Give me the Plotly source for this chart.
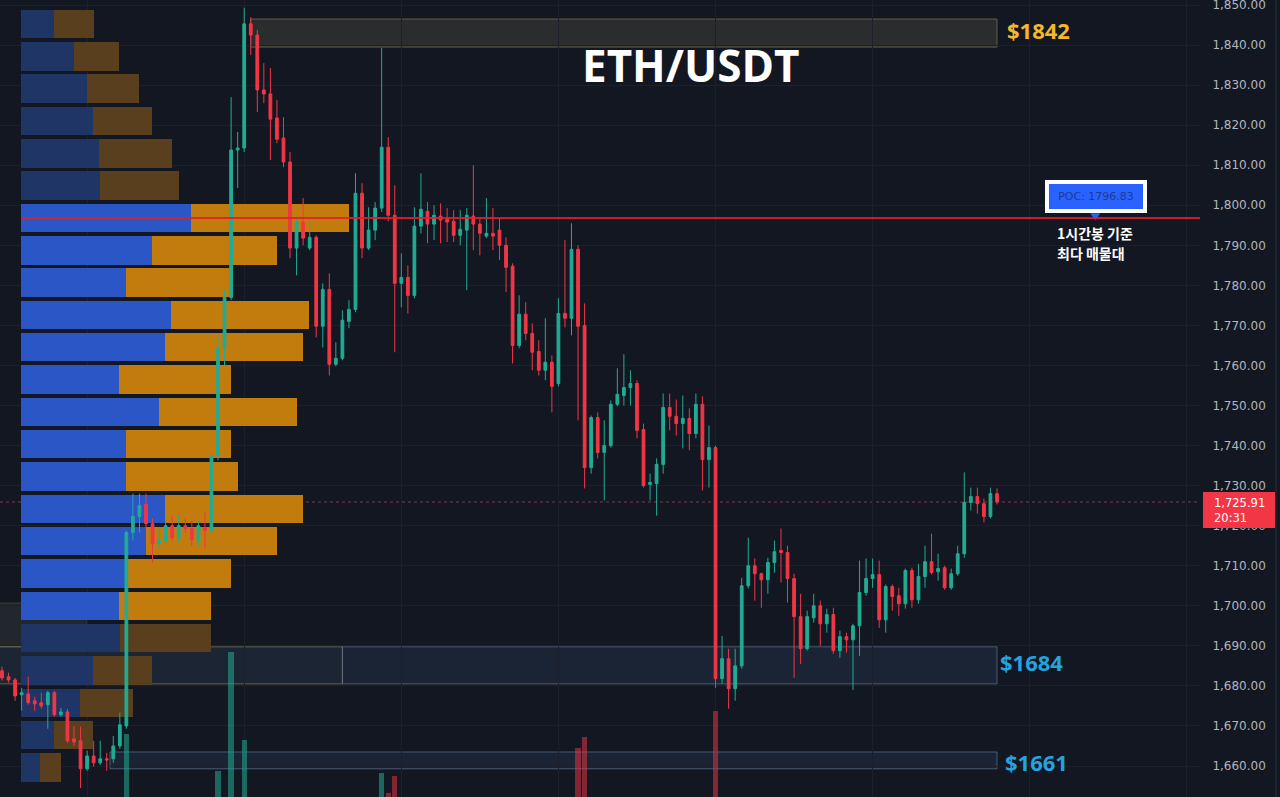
import plotly.graph_objects as go

# ---------------- data ----------------
opens = [
    1683.8, 1682.3, 1681.5, 1677.8, 1678.0, 1676.3, 1675.8, 1675.3, 1678.3, 1672.8,
    1673.5, 1666.8, 1666.3, 1659.3, 1662.5, 1660.8, 1661.8, 1661.8, 1665.0, 1670.0,
    1718.3, 1722.3, 1725.3, 1720.5, 1715.5, 1716.3, 1720.0, 1717.0, 1720.0, 1719.3,
    1716.3, 1719.5, 1718.8, 1737.5, 1764.3, 1777.0, 1813.8, 1814.3, 1845.3, 1842.5,
    1828.8, 1827.8, 1821.8, 1816.8, 1810.8, 1789.3, 1795.8, 1789.3, 1792.0, 1769.8,
    1779.0, 1760.3, 1761.8, 1771.0, 1774.0, 1803.0, 1789.3, 1793.8, 1799.3, 1814.5,
    1797.5, 1780.5, 1782.0, 1777.5, 1794.8, 1798.5, 1795.3, 1797.3, 1796.5, 1796.0,
    1792.5, 1793.8, 1797.3, 1795.3, 1792.3, 1793.0, 1793.8, 1790.0, 1784.8, 1765.0,
    1772.8, 1768.0, 1763.5, 1758.8, 1760.8, 1755.5, 1773.0, 1771.8, 1789.0, 1770.0,
    1734.5, 1747.0, 1738.3, 1740.0, 1750.3, 1752.5, 1754.5, 1755.5, 1744.0, 1730.3,
    1730.5, 1735.3, 1749.5, 1747.3, 1745.5, 1746.8, 1743.0, 1750.3, 1736.5, 1739.5,
    1681.8, 1686.8, 1679.3, 1685.0, 1705.0, 1710.0, 1708.0, 1706.5, 1710.8, 1713.8,
    1713.3, 1706.8, 1697.3, 1689.3, 1697.0, 1700.0, 1695.5, 1697.8, 1688.8, 1692.3,
    1691.5, 1695.0, 1703.3, 1706.8, 1707.8, 1696.5, 1704.8, 1702.5, 1700.5, 1708.8,
    1701.5, 1707.3, 1711.0, 1708.5, 1709.5, 1704.5, 1708.0, 1713.0, 1725.8, 1727.3,
    1725.5, 1722.3, 1728.0,
]
highs = [
    1684.8, 1683.3, 1682.0, 1679.5, 1682.3, 1677.3, 1678.3, 1678.8, 1678.8, 1674.5,
    1674.3, 1670.0, 1669.8, 1663.8, 1666.3, 1666.3, 1663.3, 1667.5, 1673.3, 1718.8,
    1728.0, 1728.0, 1728.0, 1721.8, 1719.3, 1721.3, 1722.5, 1722.5, 1721.8, 1721.3,
    1721.3, 1723.3, 1738.8, 1767.5, 1778.8, 1827.0, 1818.3, 1849.3, 1847.0, 1843.8,
    1835.5, 1834.3, 1826.3, 1822.0, 1813.3, 1797.0, 1801.8, 1797.0, 1792.5, 1780.5,
    1783.0, 1765.8, 1773.8, 1776.3, 1808.0, 1805.5, 1799.5, 1800.8, 1839.3, 1817.0,
    1805.0, 1788.0, 1785.0, 1799.5, 1808.0, 1800.8, 1800.0, 1800.5, 1799.3, 1798.8,
    1798.8, 1799.3, 1810.0, 1797.0, 1801.8, 1799.3, 1796.8, 1792.0, 1785.5, 1777.5,
    1775.8, 1770.5, 1766.3, 1771.8, 1762.5, 1776.8, 1791.3, 1795.5, 1790.0, 1775.5,
    1747.5, 1748.3, 1746.3, 1751.3, 1759.3, 1762.8, 1758.8, 1756.3, 1745.5, 1733.0,
    1736.8, 1753.0, 1753.0, 1751.5, 1752.5, 1749.3, 1753.0, 1752.3, 1745.0, 1740.0,
    1692.5, 1689.3, 1689.3, 1707.0, 1717.0, 1711.8, 1708.3, 1712.0, 1716.3, 1719.3,
    1715.0, 1708.0, 1703.0, 1698.8, 1703.0, 1701.3, 1699.3, 1699.5, 1693.8, 1693.3,
    1695.5, 1711.3, 1711.8, 1711.8, 1711.3, 1705.3, 1705.3, 1704.5, 1709.3, 1709.5,
    1710.5, 1715.0, 1718.0, 1713.0, 1710.0, 1709.3, 1715.0, 1733.3, 1729.5, 1729.5,
    1726.8, 1729.5, 1729.3,
]
lows = [
    1681.3, 1680.8, 1676.3, 1673.8, 1675.3, 1673.8, 1674.3, 1669.3, 1672.3, 1672.3,
    1665.8, 1665.0, 1654.5, 1658.8, 1659.8, 1660.3, 1658.8, 1660.8, 1664.3, 1669.3,
    1716.3, 1718.3, 1719.3, 1710.8, 1714.3, 1715.0, 1716.3, 1715.8, 1718.3, 1715.0,
    1715.0, 1714.3, 1718.0, 1736.3, 1760.0, 1776.3, 1804.3, 1813.3, 1837.5, 1823.3,
    1825.5, 1811.3, 1815.5, 1809.5, 1786.8, 1782.5, 1790.0, 1788.8, 1767.0, 1764.5,
    1757.5, 1759.8, 1761.3, 1769.3, 1773.3, 1786.8, 1788.8, 1791.3, 1798.3, 1796.0,
    1763.3, 1774.5, 1773.0, 1776.8, 1793.0, 1790.5, 1791.3, 1790.5, 1790.8, 1790.8,
    1790.0, 1778.8, 1788.8, 1787.5, 1791.8, 1788.8, 1786.3, 1778.3, 1760.5, 1764.3,
    1766.3, 1758.8, 1757.5, 1756.3, 1748.3, 1754.8, 1769.5, 1767.5, 1746.3, 1729.3,
    1733.0, 1736.8, 1726.3, 1739.5, 1749.8, 1750.0, 1750.0, 1741.8, 1729.5, 1726.3,
    1722.5, 1733.0, 1743.8, 1742.5, 1739.3, 1738.8, 1741.8, 1728.8, 1729.5, 1679.5,
    1680.5, 1674.3, 1676.3, 1684.3, 1704.3, 1701.3, 1699.5, 1703.0, 1708.3, 1705.8,
    1700.8, 1682.0, 1685.5, 1688.8, 1695.8, 1690.0, 1693.3, 1688.0, 1687.0, 1688.3,
    1679.0, 1687.5, 1702.5, 1704.5, 1694.5, 1693.3, 1698.8, 1697.5, 1699.3, 1699.5,
    1700.5, 1704.5, 1707.8, 1706.3, 1704.0, 1704.0, 1707.5, 1712.0, 1723.8, 1723.0,
    1720.8, 1721.8, 1725.3,
]
closes = [
    1682.0, 1681.5, 1677.5, 1678.3, 1675.8, 1675.5, 1675.0, 1678.3, 1672.8, 1673.5,
    1666.3, 1666.0, 1659.3, 1662.5, 1660.8, 1661.8, 1661.5, 1665.0, 1670.3, 1718.3,
    1722.3, 1725.0, 1720.5, 1715.5, 1716.3, 1720.0, 1717.0, 1720.0, 1719.3, 1716.5,
    1720.0, 1718.8, 1737.5, 1764.3, 1777.0, 1813.8, 1814.3, 1845.3, 1842.5, 1828.8,
    1827.8, 1821.5, 1816.5, 1810.8, 1789.3, 1795.8, 1791.8, 1792.0, 1769.8, 1779.0,
    1760.3, 1761.8, 1771.3, 1774.0, 1803.0, 1789.3, 1793.8, 1799.3, 1814.5, 1797.5,
    1780.5, 1782.0, 1777.5, 1794.8, 1799.0, 1795.3, 1797.5, 1796.3, 1795.8, 1792.5,
    1794.0, 1797.5, 1795.3, 1793.0, 1793.0, 1792.3, 1790.0, 1784.5, 1765.0, 1772.8,
    1768.0, 1763.3, 1758.8, 1760.8, 1754.8, 1773.0, 1771.8, 1789.0, 1769.8, 1734.5,
    1747.0, 1738.3, 1740.0, 1750.3, 1752.8, 1754.5, 1755.5, 1743.8, 1730.0, 1730.8,
    1735.3, 1749.5, 1747.3, 1745.5, 1746.8, 1743.0, 1750.3, 1736.5, 1739.5, 1681.8,
    1686.8, 1679.3, 1685.0, 1705.0, 1710.0, 1708.0, 1706.5, 1710.8, 1713.5, 1713.3,
    1706.8, 1697.3, 1689.3, 1697.3, 1700.0, 1695.5, 1697.8, 1688.8, 1692.3, 1691.5,
    1695.0, 1703.3, 1706.8, 1707.8, 1696.5, 1704.8, 1702.3, 1700.5, 1708.8, 1701.5,
    1707.3, 1711.0, 1708.3, 1709.3, 1704.5, 1708.0, 1713.0, 1725.8, 1727.3, 1725.5,
    1722.3, 1728.0, 1725.91,
]
volumes = [
    20, 15, 28, 18, 22, 12, 14, 24, 30, 12,
    32, 14, 45, 25, 18, 14, 12, 22, 35, 116,
    40, 30, 32, 35, 15, 20, 18, 16, 12, 18,
    16, 14, 50, 79, 46, 198, 40, 110, 35, 48,
    25, 35, 28, 30, 48, 30, 25, 18, 45, 32,
    40, 18, 28, 20, 50, 36, 20, 22, 77, 57,
    74, 22, 25, 40, 28, 20, 16, 14, 14, 18,
    15, 22, 30, 16, 18, 15, 20, 25, 48, 30,
    22, 24, 22, 25, 30, 42, 30, 45, 102, 113,
    40, 30, 35, 30, 20, 22, 16, 35, 42, 18,
    25, 40, 15, 14, 16, 18, 28, 38, 22, 139,
    40, 45, 35, 48, 30, 18, 15, 20, 18, 22,
    28, 45, 38, 30, 18, 22, 14, 30, 18, 12,
    30, 35, 18, 12, 32, 25, 12, 12, 28, 22,
    20, 18, 16, 10, 20, 15, 22, 45, 16, 14,
    18, 22, 10,
]
last_price = 1725.91
last_time = "20:31"

# volume profile (1h), rows from top to bottom
profile_prices = [1845.25, 1837.18, 1829.11, 1821.04, 1812.97, 1804.90, 1796.83, 1788.76,
                  1780.69, 1772.62, 1764.55, 1756.48, 1748.41, 1740.34, 1732.27, 1724.20,
                  1716.13, 1708.06, 1699.99, 1691.92, 1683.85, 1675.78, 1667.71, 1659.64]
profile_up = [33, 53, 66, 72, 78, 79, 170, 131, 105, 150, 144, 98,
              138, 105, 105, 144, 125, 107, 98, 99, 72, 59, 33, 19]
profile_down = [40, 45, 52, 59, 73, 79, 158, 125, 105, 138, 138, 112,
                138, 105, 112, 138, 131, 103, 92, 91, 59, 53, 39, 21]
poc_price = 1796.83
value_area_low, value_area_high = 1696.0, 1801.0

# support / resistance zones
zone_labels = ["$1842", "$1684", "$1661"]
zone_low = [1839.5, 1680.5, 1659.3]
zone_high = [1846.5, 1689.75, 1663.5]
zone_start = [38, 52, 16.5]
zone_end = [152, 152, 152]

# ---------------- styling ----------------
BG = "#131722"
GRID = "#1c202c"
UP = "#22ab94"
DOWN = "#f23645"
AXIS_TXT = "#b2b5be"
AXIS_FONT = "DejaVu Sans"

idx = list(range(len(opens)))

fig = go.Figure()

# volume profile on the main subplot (x / y)
va = [value_area_low <= p <= value_area_high for p in profile_prices]
up_cols = ["#2a56c6" if v else "#1f3565" for v in va]
dn_cols = ["#c27c0e" if v else "#5a3f1f" for v in va]
fig.add_trace(go.Bar(x=profile_up, y=profile_prices, orientation="h", width=7.1,
                     marker=dict(color=up_cols, line=dict(width=0)),
                     xaxis="x", yaxis="y", hoverinfo="skip", showlegend=False))
fig.add_trace(go.Bar(x=profile_down, y=profile_prices, base=profile_up, orientation="h", width=7.1,
                     marker=dict(color=dn_cols, line=dict(width=0)),
                     xaxis="x", yaxis="y", hoverinfo="skip", showlegend=False))

# candles on overlay x2 / y
fig.add_trace(go.Candlestick(
    x=idx, open=opens, high=highs, low=lows, close=closes,
    increasing=dict(line=dict(color=UP, width=1), fillcolor=UP),
    decreasing=dict(line=dict(color=DOWN, width=1), fillcolor=DOWN),
    whiskerwidth=0, xaxis="x2", yaxis="y", showlegend=False, hoverinfo="skip"))

# volume bars on x2 / y2
vol_cols = ["rgba(34,171,148,0.55)" if c >= o else "rgba(242,54,69,0.5)"
            for o, c in zip(opens, closes)]
fig.add_trace(go.Bar(x=idx, y=volumes, width=0.8, marker=dict(color=vol_cols, line=dict(width=0)),
                     xaxis="x2", yaxis="y2", hoverinfo="skip", showlegend=False))

# POC marker triangle
fig.add_trace(go.Scatter(x=[167.0], y=[poc_price + 0.6], mode="markers",
                         marker=dict(symbol="triangle-down", size=9, color="#2962ff"),
                         xaxis="x2", yaxis="y", cliponaxis=False, hoverinfo="skip", showlegend=False))

shapes = []
# extra boxes (left)
shapes.append(dict(type="rect", xref="x2", yref="y", x0=-0.4, x1=13, y0=zone_high[1], y1=1700.7,
                   fillcolor="rgba(120,120,105,0.16)", line=dict(color="rgba(150,150,150,0.25)", width=1),
                   layer="below"))
shapes.append(dict(type="rect", xref="x2", yref="y", x0=-0.4, x1=zone_start[1], y0=zone_low[1], y1=zone_high[1],
                   fillcolor="rgba(80,110,150,0.16)", line=dict(color="rgba(190,180,120,0.45)", width=1),
                   layer="below"))
zone_fill = ["rgba(70,70,60,0.45)", "rgba(70,105,150,0.16)", "rgba(70,105,150,0.16)"]
zone_line = ["rgba(120,108,80,0.8)", "rgba(110,130,160,0.6)", "rgba(110,130,160,0.6)"]
for k in range(3):
    shapes.append(dict(type="rect", xref="x2", yref="y", x0=zone_start[k], x1=zone_end[k],
                       y0=zone_low[k], y1=zone_high[k], fillcolor=zone_fill[k],
                       line=dict(color=zone_line[k], width=1), layer="below"))
# POC line
shapes.append(dict(type="line", xref="paper", yref="y", x0=21 / 1200, x1=1, y0=poc_price, y1=poc_price,
                   line=dict(color="rgba(228,30,42,0.88)", width=2), layer="above"))
# last price line
shapes.append(dict(type="line", xref="paper", yref="y", x0=0, x1=1, y0=last_price, y1=last_price,
                   line=dict(color="rgba(200,90,100,0.55)", width=1, dash="dot"), layer="below"))
# last price tag on the axis
shapes.append(dict(type="rect", xref="paper", yref="y", x0=1203 / 1200, x1=1275 / 1200,
                   y0=last_price - 6.5, y1=last_price + 2.5, fillcolor=DOWN,
                   line=dict(width=0), layer="above"))
# right edge divider
shapes.append(dict(type="line", xref="paper", yref="paper", x0=1276 / 1200, x1=1276 / 1200, y0=0, y1=1,
                   line=dict(color="#2a2e39", width=1), layer="above"))

annotations = []
annotations.append(dict(xref="paper", yref="paper", x=691 / 1200, y=1 - 65 / 797, text="<b>ETH/USDT</b>",
                        showarrow=False, xanchor="center", yanchor="middle",
                        font=dict(family="Open Sans", size=44, color="white")))
label_cols = ["#f5b82a", "#23a3df", "#23a3df"]
label_y = [1843.8, 1686.0, 1661.0]
label_shift = [8, 1, 6]
for k in range(3):
    annotations.append(dict(xref="x2", yref="y", x=zone_end[k], y=label_y[k], text=f"<b>{zone_labels[k]}</b>",
                            showarrow=False, xanchor="left", yanchor="middle", xshift=label_shift[k],
                            font=dict(family="Open Sans", size=22, color=label_cols[k])))
annotations.append(dict(xref="x2", yref="y", x=167.1, y=1802.2, text=f"POC: {poc_price:.2f}",
                        showarrow=False, xanchor="center", yanchor="middle",
                        bgcolor="#2962ff", bordercolor="white", borderwidth=4, borderpad=4,
                        width=86, height=17,
                        font=dict(family=AXIS_FONT, size=11, color="#1d3b8f")))
annotations.append(dict(xref="x2", yref="y", x=160.9, y=1793.1, text="<b>1시간봉 기준</b>",
                        showarrow=False, xanchor="left", yanchor="middle",
                        font=dict(family="Noto Sans CJK KR", size=14, color="white")))
annotations.append(dict(xref="x2", yref="y", x=160.9, y=1788.1, text="<b>최다 매물대</b>",
                        showarrow=False, xanchor="left", yanchor="middle",
                        font=dict(family="Noto Sans CJK KR", size=14, color="white")))
annotations.append(dict(xref="paper", yref="y", x=1212 / 1200, y=last_price - 2.0,
                        text=f"{last_price:,.2f}<br>{last_time}",
                        showarrow=False, xanchor="left", yanchor="middle", align="left",
                        font=dict(family=AXIS_FONT, size=11.5, color="white")))

fig.update_layout(
    template="none",
    width=1280, height=797,
    margin=dict(l=0, r=80, t=0, b=0),
    paper_bgcolor=BG, plot_bgcolor=BG,
    barmode="overlay", boxgap=0.4, bargap=0,
    showlegend=False,
    xaxis=dict(range=[-21, 1179], showgrid=True, gridcolor=GRID, gridwidth=1,
               tick0=66.1, dtick=157.1, showticklabels=False, zeroline=False,
               showline=False, ticks="", fixedrange=True),
    xaxis2=dict(overlaying="x", range=[-0.3055, 183.01], visible=False,
                rangeslider=dict(visible=False), fixedrange=True),
    yaxis=dict(side="right", range=[1652.26, 1851.25], tick0=1660, dtick=10,
               tickformat=",.2f", showgrid=True, gridcolor=GRID, gridwidth=1,
               zeroline=False, showline=False, ticks="outside", ticklen=9, tickcolor=BG,
               ticklabeloverflow="allow",
               tickfont=dict(family=AXIS_FONT, size=12, color=AXIS_TXT), fixedrange=True),
    yaxis2=dict(overlaying="y", range=[53, 850], visible=False, fixedrange=True),
    shapes=shapes,
    annotations=annotations,
)

fig.write_html("out.html")
